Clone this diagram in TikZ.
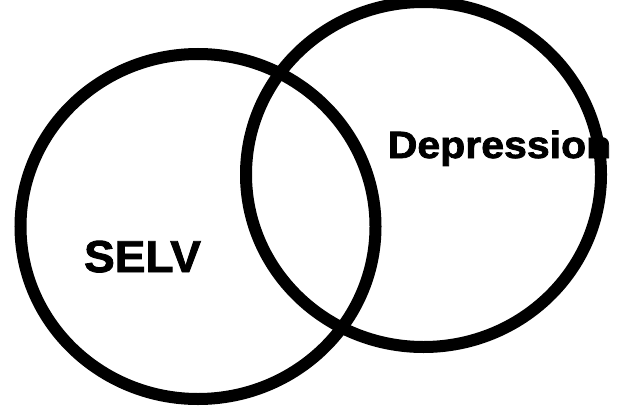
\documentclass[tikz,border=0pt]{standalone}
\usepackage{fontspec}
\setmainfont{Liberation Sans}
\newfontfamily\heavyfont[FakeBold=2, FakeStretch=1.03]{Liberation Sans Bold}
\newfontfamily\heavywidefont[FakeBold=2, FakeStretch=1.08]{Liberation Sans Bold}
\usetikzlibrary{shapes.geometric}

\tikzset{
  vennset/.style={draw=black, ellipse, line width=12pt, inner sep=0pt,
    minimum width=355pt, minimum height=345pt},
  setlabel/.style={inner sep=0pt, anchor=base}
}

\begin{document}
\begin{tikzpicture}[x=1pt, y=-1pt]
  \useasboundingbox (0,0) rectangle (617,409);
  % labels
  \node[setlabel] (selv) at (142.5,272) {\heavyfont\fontsize{44.7}{50}\selectfont SELV};
  \node[setlabel] (depr) at (499.5,158) {\heavywidefont\fontsize{38}{44}\selectfont Depression};
  % the two sets
  \node[vennset] (leftset) at (198,226.5) {};
  \node[vennset] (rightset) at (423.5,174.5) {};
\end{tikzpicture}
\end{document}
